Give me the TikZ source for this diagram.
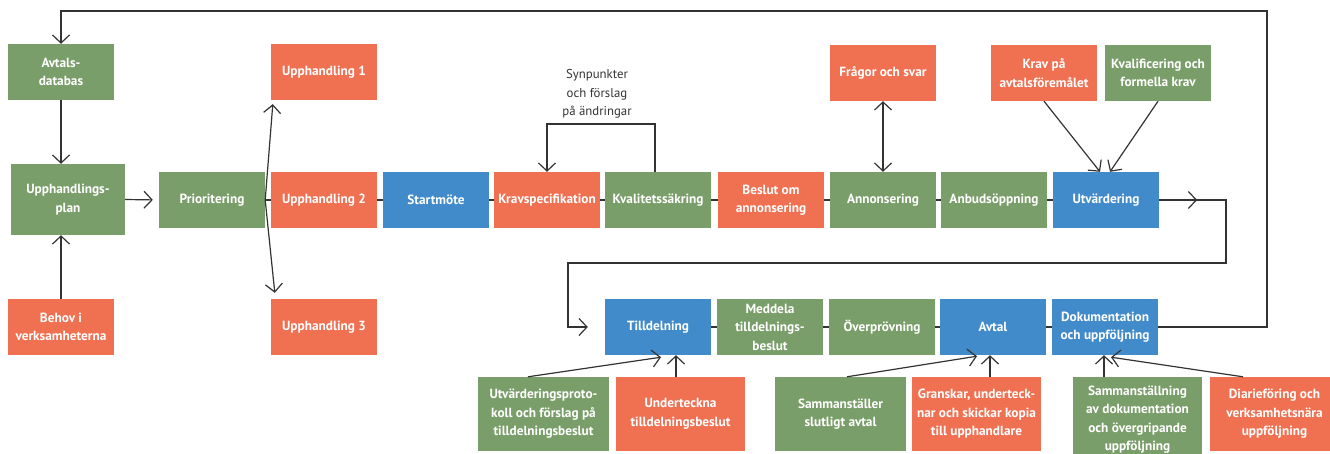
\documentclass[tikz,border=0pt]{standalone}
\usepackage{fontspec}
\setmainfont{PT Sans}
\usetikzlibrary{arrows.meta,calc}
\definecolor{cg}{HTML}{7A9E69}
\definecolor{co}{HTML}{F07052}
\definecolor{cb}{HTML}{428BCA}
\definecolor{ln}{HTML}{333333}
\begin{document}
\begin{tikzpicture}[x=1pt,y=-1pt,
  box/.style={minimum width=106pt,minimum height=56pt,inner sep=0pt,text=white,
    font=\bfseries\fontsize{13.3}{18.5}\selectfont,align=center},
  gbox/.style={box,fill=cg},
  obox/.style={box,fill=co},
  bbox/.style={box,fill=cb},
  wide/.style={minimum width=130pt,minimum height=74pt},
  ln/.style={draw=ln,line width=1.2pt},
  arr/.style={ln,-{Straight Barb[length=8pt,width=17pt,line width=1.2pt]}},
  darr/.style={ln,{Straight Barb[length=8pt,width=17pt,line width=1.2pt]}-{Straight Barb[length=8pt,width=17pt,line width=1.2pt]}},
  lbl/.style={text=ln,font=\fontsize{12.8}{18.5}\selectfont,align=center,inner sep=0pt}
]
\useasboundingbox (0,0) rectangle (1330,454);
% left column
\node[gbox] (avt) at (61,72) {Avtals-\\databas};
\node[gbox,minimum width=114pt,minimum height=71pt] (plan) at (68,199.5) {Upphandlings-\\plan};
\node[obox] (behov) at (61,327) {Behov i\\verksamheterna};
\node[gbox] (prio) at (212,200) {Prioritering};
\node[obox] (u1) at (324,72) {Upphandling 1};
\node[obox] (u2) at (324,200) {Upphandling 2};
\node[obox] (u3) at (324,327) {Upphandling 3};
% top row
\node[bbox] (start) at (436,200) {Startmöte};
\node[obox] (krav) at (547,200) {Kravspecifikation};
\node[gbox] (kval) at (658,200) {Kvalitetssäkring};
\node[obox] (beslut) at (771,200) {Beslut om\\annonsering};
\node[gbox] (annons) at (883,200) {Annonsering};
\node[gbox] (anbud) at (994,200) {Anbudsöppning};
\node[bbox] (utv) at (1106,200) {Utvärdering};
\node[obox] (fragor) at (883,73) {Frågor och svar};
\node[obox] (kravpa) at (1044,73) {Krav på\\avtalsföremålet};
\node[gbox] (kvalif) at (1158,73) {Kvalificering och\\formella krav};
\node[lbl] (syn) at (597,94) {Synpunkter\\och förslag\\på ändringar};
% second row
\node[bbox] (till) at (658,327) {Tilldelning};
\node[gbox] (medd) at (770,327) {Meddela\\tilldelnings-\\beslut};
\node[gbox] (overp) at (882,327) {Överprövning};
\node[bbox] (avtal) at (993,327) {Avtal};
\node[bbox] (dok) at (1105,327) {Dokumentation\\och uppföljning};
% bottom row
\node[gbox,wide,minimum width=131pt] (prot) at (543.5,414) {Utvärderingsproto-\\koll och förslag på\\tilldelningsbeslut};
\node[obox,wide,minimum width=129pt] (under) at (680.5,414) {Underteckna\\tilldelningsbeslut};
\node[gbox,wide,minimum width=131pt] (samst) at (840.5,414) {Sammanställer\\slutligt avtal};
\node[obox,wide,minimum width=129pt] (gransk) at (976.5,414) {Granskar, underteck-\\nar och skickar kopia\\till upphandlare};
\node[gbox,wide,minimum width=129pt,minimum height=82pt,text depth=0pt] (samn) at (1137.5,418) {Sammanställning\\av dokumentation\\och övergripande\\uppföljning};
\node[obox,wide,minimum width=129pt] (diar) at (1274.5,414) {Diarieföring och\\verksamhetsnära\\uppföljning};
% coordinates
\coordinate (loopR) at (1267,11);
\coordinate (r1) at (1226,263);
\coordinate (l1) at (568,263);
\coordinate (fbk) at (655,124);
% connectors
\draw[arr] (dok.east) -| (loopR) -| (avt.north);
\draw[arr] (avt.south) -- (avt.south |- plan.north);
\draw[arr] (behov.north) -- (behov.north |- plan.south);
\draw[arr,shorten >=6pt] (plan.east) -- (prio.west);
\draw[arr] (prio.east) -- ($(u1.south west)+(2,4)$);
\draw[arr] (prio.east) -- ($(u3.north west)+(4,-6)$);
\draw[ln] (prio.east) -- (u2.west);
\draw[ln] (u2.east) -- (start.west);
\draw[ln] (start.east) -- (krav.west);
\draw[ln] (krav.east) -- (kval.west);
\draw[ln] (kval.east) -- (beslut.west);
\draw[ln] (beslut.east) -- (annons.west);
\draw[ln] (annons.east) -- (anbud.west);
\draw[ln] (anbud.east) -- (utv.west);
\draw[arr] (utv.east) -- ++(38,0);
\draw[arr,shorten >=17pt] (utv.east) -| (r1) -- (l1) |- (till.west);
\draw[arr] (kval.north -| fbk) -- (fbk) -| (krav.north);
\draw[darr] (fragor.south) -- (annons.north);
\draw[arr] (kravpa.south) -- ($(utv.north)+(-6,0)$);
\draw[arr] (kvalif.south) -- ($(utv.north)+(4,0)$);
\draw[ln] (till.east) -- (medd.west);
\draw[ln] (medd.east) -- (overp.west);
\draw[ln] (overp.east) -- (avtal.west);
\draw[ln] (avtal.east) -- (dok.west);
\draw[arr] ($(prot.north)+(-15.5,0)$) -- ($(till.south)+(3,2)$);
\draw[arr] ($(under.north)+(-4.5,0)$) coordinate (ut) -- (ut |- till.south);
\draw[arr] ($(samst.north)+(6.5,0)$) -- ($(avtal.south)+(-16,1)$);
\draw[arr] ($(gransk.north)+(13.5,0)$) coordinate (gt) -- (gt |- avtal.south);
\draw[arr] ($(samn.north)+(-33.5,0)$) coordinate (st) -- (st |- dok.south);
\draw[arr] ($(diar.north)+(-31.5,0)$) -- ($(dok.south)+(6,2)$);
\end{tikzpicture}
\end{document}
